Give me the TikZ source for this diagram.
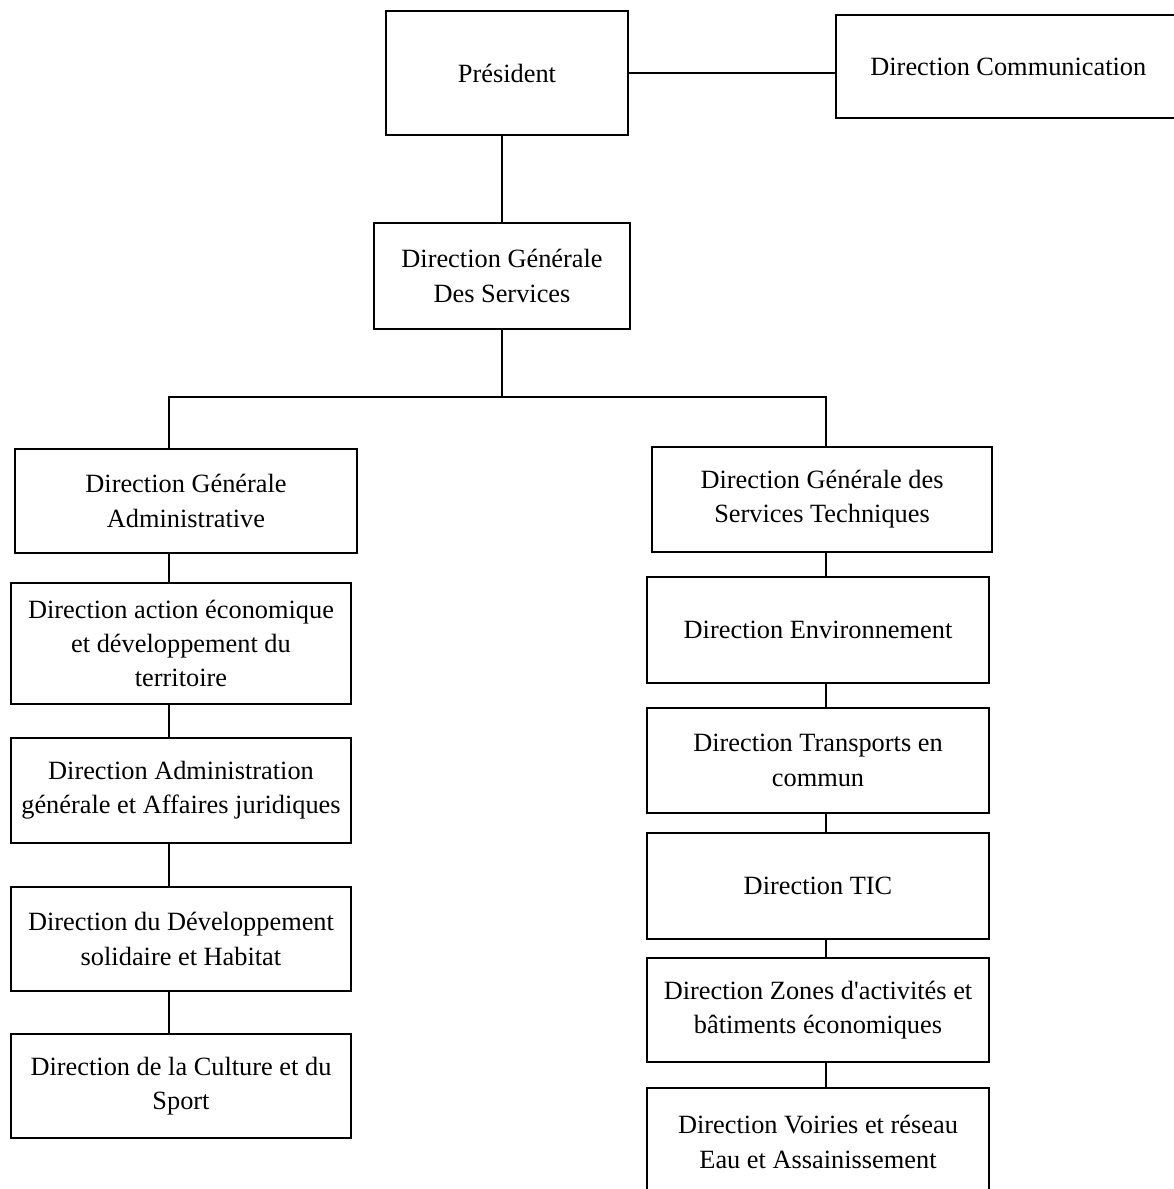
\documentclass[tikz,border=0pt]{standalone}
\usepackage{fontspec}
\setmainfont{Liberation Serif}
\usetikzlibrary{calc}

\begin{document}
\begin{tikzpicture}[x=0.02cm,y=-0.02cm,
    box/.style={draw,line width=1pt,inner sep=0pt,align=center,
      font=\fontsize{15}{19.5}\selectfont},
    leftbox/.style={box,minimum width=6.8cm},
    rightbox/.style={box,minimum width=6.84cm}]
  % page frame
  \useasboundingbox (0,0) rectangle (1173,1189);

  % top of the chart
  \node[box,minimum width=4.84cm,minimum height=2.48cm] (pres) at (507,73) {Président};
  % communication box runs off the right edge of the page
  \node[box,minimum height=2.06cm,anchor=west] (comm) at (835,66.5)
    {\makebox[6.9cm]{Direction Communication}\hspace{2.1cm}};
  \node[box,minimum width=5.12cm,minimum height=2.12cm] (dgs) at (502,276) {Direction Générale\\Des Services};

  % the two branches
  \node[box,minimum width=6.84cm,minimum height=2.08cm] (dga) at (186,501) {Direction Générale\\Administrative};
  \node[box,minimum width=6.8cm,minimum height=2.1cm] (dgst) at (822,499.5) {Direction Générale des\\Services Techniques};

  % left column
  \node[leftbox,minimum height=2.42cm] (eco) at (181,643.5) {Direction action économique\\et développement du\\territoire};
  \node[leftbox,minimum height=2.1cm] (admin) at (181,790.5) {Direction Administration\\générale et Affaires juridiques};
  \node[leftbox,minimum height=2.08cm] (habitat) at (181,939) {Direction du Développement\\solidaire et Habitat};
  \node[leftbox,minimum height=2.08cm] (culture) at (181,1086) {Direction de la Culture et du\\Sport};

  % right column
  \node[rightbox,minimum height=2.12cm] (env) at (818,630) {Direction Environnement};
  \node[rightbox,minimum height=2.1cm] (transp) at (818,760.5) {Direction Transports en\\commun};
  \node[rightbox,minimum height=2.12cm] (tic) at (818,886) {Direction TIC};
  \node[rightbox,minimum height=2.08cm] (zones) at (818,1010) {Direction Zones d\textquotesingle activités et\\bâtiments économiques};
  \node[rightbox,minimum height=2.16cm] (voiries) at (818,1142) {Direction Voiries et réseau\\Eau et Assainissement};

  % connectors
  \coordinate (lcol) at (169,397);
  \coordinate (rcol) at (826,397);
  \draw[line width=1pt] (pres.east) -- (pres.east -| comm.west);
  \draw[line width=1pt] (dgs.north) -- (dgs.north |- pres.south);
  \draw[line width=1pt] (dgs.south) -- (dgs.south |- lcol);
  \draw[line width=1pt] (dga.north -| lcol) |- (rcol) -- (dgst.north -| rcol);
  \foreach \a/\b in {dga/eco,eco/admin,admin/habitat,habitat/culture}
    \draw[line width=1pt] (\a.south -| lcol) -- (\b.north -| lcol);
  \foreach \a/\b in {dgst/env,env/transp,transp/tic,tic/zones,zones/voiries}
    \draw[line width=1pt] (\a.south -| rcol) -- (\b.north -| rcol);
\end{tikzpicture}
\end{document}
